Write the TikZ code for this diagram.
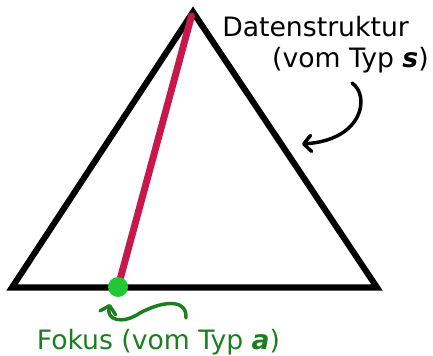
\documentclass[tikz,border=0pt]{standalone}
\usepackage{fontspec}
\setmainfont{DejaVu Sans}
\usetikzlibrary{arrows.meta}
\definecolor{tri}{HTML}{000000}
\definecolor{focusred}{HTML}{C8174B}
\definecolor{dotgreen}{HTML}{22C833}
\definecolor{txtgreen}{HTML}{1B7F1F}
\tikzset{
  lbl/.style={inner sep=0pt, font=\fontsize{20}{24}\selectfont},
  curlyarrow/.style={line width=2.6pt, line cap=round,
    -{Straight Barb[length=5.5pt,width=12pt,round]}},
}
\begin{document}
\begin{tikzpicture}[x=0.75pt,y=-0.75pt]
\useasboundingbox (0,0) rectangle (433,356);
\coordinate (A) at (193,12);
\coordinate (L) at (12,287.5);
\coordinate (R) at (377,287.5);
\draw[line width=4.6pt, line join=miter, tri] (A) -- (L) -- (R) -- cycle;
\coordinate (F) at (118,287);
\coordinate (Top) at (191.5,16);
\draw[line width=5.2pt, line cap=round, focusred] (Top) -- (F);
\node[circle, fill=dotgreen, minimum size=15pt, inner sep=0pt] (dot) at (F) {};
\node[lbl, anchor=base west] (ds) at (222,36.5) {Datenstruktur};
\node[lbl, anchor=base east] (ds2) at (429,68) {(vom Typ \textbf{\textit{s}})};
\node[lbl, anchor=base, text=txtgreen] (fk) at (158.5,350) {Fokus (vom Typ \textbf{\textit{a}})};
\coordinate (bs) at (352,83);
\coordinate (be) at (302,144);
\draw[curlyarrow] (bs) .. controls (370,95) and (364,140) .. (be);
\coordinate (gs) at (186,318);
\coordinate (gm) at (140,313);
\coordinate (ge) at (110,304);
\draw[curlyarrow, txtgreen] (gs) .. controls (187,297) and (160,302) .. (gm) .. controls (122,325) and (106,320) .. (ge);
\end{tikzpicture}
\end{document}
